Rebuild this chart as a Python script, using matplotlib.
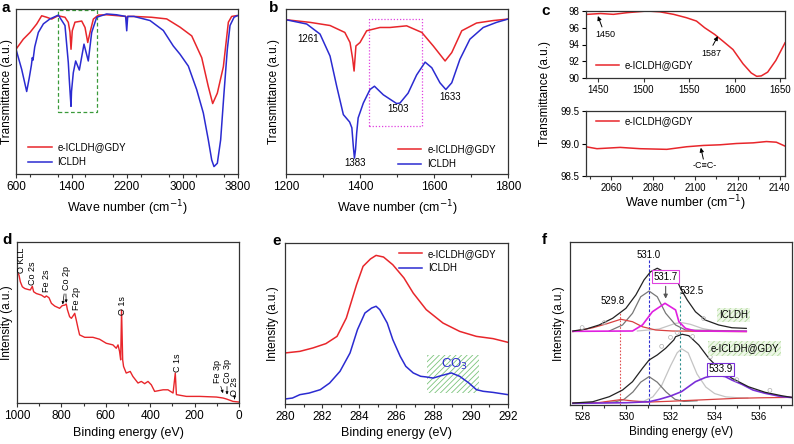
import matplotlib
matplotlib.use("Agg")
import matplotlib.pyplot as plt
from matplotlib.patches import Rectangle
from matplotlib.ticker import MultipleLocator, FormatStrFormatter

plt.rcParams['font.family'] = ['Liberation Sans', 'DejaVu Sans']
plt.rcParams['hatch.linewidth'] = 0.6

# ---- panel a: FTIR full range ----
a_ticks = [600, 1400, 2200, 3000, 3800]
a_red_x = [600, 705, 802, 898, 970, 1042, 1114, 1205, 1306, 1354, 1378, 1393, 1411, 1450, 1547, 1595,
           1634, 1667, 1715, 1787, 1907, 2050, 2180, 2196, 2210, 2300, 2400, 2550, 2772, 2964, 3133,
           3277, 3372, 3435, 3502, 3589, 3661, 3709, 3781, 3800]
a_red_y = [75.6, 81.7, 85.8, 90.9, 95.9, 95, 93.9, 95.9, 95, 91.9, 86, 75.6, 86.8, 92, 92.7, 88.8,
           79.7, 85.8, 93.9, 96.3, 96.5, 96, 95.5, 93.5, 95.5, 95.5, 95.3, 95, 94, 89, 83.7,
           70.5, 53, 42.7, 49, 65, 92, 95.5, 96, 96]
a_blue_x = [600, 682, 754, 790, 822, 835, 845, 870, 922, 995, 1090, 1210, 1306, 1354, 1368, 1385, 1393,
            1400, 1426, 1460, 1513, 1580, 1642, 1691, 1763, 1907, 2050, 2180, 2196, 2210, 2300, 2532,
            2723, 2867, 2964, 3084, 3204, 3300, 3372, 3421, 3454, 3502, 3550, 3598, 3646, 3685, 3743,
            3790, 3800]
a_blue_y = [75.6, 63.4, 50, 58, 66, 70.5, 69, 77, 85.8, 91, 94, 96.3, 90, 67.5, 57.3, 46, 41,
            50, 61.4, 68.5, 63, 78.7, 68.5, 85.8, 95, 97, 96.5, 95.5, 86.8, 95.5, 95.5, 93,
            87, 77.6, 72.6, 65.4, 51.2, 37, 20.7, 8.5, 4.5, 6.5, 20.7, 49, 75.6, 90, 95,
            96, 96]

# ---- panel b: FTIR zoom ----
b_red_x = [1200, 1265, 1319, 1359, 1373, 1380, 1384, 1389, 1400, 1418, 1454, 1481, 1526, 1567, 1598,
           1630, 1648, 1675, 1715, 1760, 1800]
b_red_y = [93.5, 91.9, 90, 85.8, 79.7, 70, 62.4, 77.6, 79.7, 86.8, 88.8, 88.8, 89.8, 85.8, 77.6,
           68.5, 73.6, 86.8, 91.5, 93, 93.9]
b_blue_x = [1200, 1256, 1292, 1319, 1337, 1355, 1372, 1378, 1382, 1385, 1388, 1391, 1395, 1409, 1427,
            1439, 1463, 1499, 1508, 1530, 1553, 1576, 1594, 1616, 1632, 1648, 1670, 1697, 1733,
            1769, 1800]
b_blue_y = [93.5, 90.9, 84.8, 71.5, 53.2, 36, 31.5, 28, 16.6, 9.6, 15, 24.8, 34, 43, 51.2,
            53.2, 48, 42.7, 43, 49, 60, 67.8, 64.4, 55.3, 51.2, 55.3, 69.5, 81.7, 88.8,
            91.9, 93.9]
b_peaks = [(1261, 82, "1261"), (1386, 6.5, "1383"), (1504, 39.4, "1503"), (1643, 46.8, "1633")]

# ---- panel c ----
c1_x = [1437, 1438.4, 1453, 1467, 1482, 1504, 1518, 1533, 1547, 1558, 1567, 1578, 1587, 1598, 1609,
        1618, 1624, 1629, 1636, 1645, 1655]
c1_y = [97.6, 97.6, 97.7, 97.6, 97.8, 98.0, 97.9, 97.6, 97.2, 96.8, 96.0, 95.2, 94.4, 93.4, 91.7,
        90.6, 90.2, 90.25, 90.7, 92.1, 94.2]
c2_x = [2048.2, 2053.4, 2064.4, 2073.9, 2086.5, 2095.9, 2103.8, 2111.7, 2119.5, 2127.4, 2133.7,
        2138.4, 2142.5]
c2_y = [98.95, 98.92, 98.94, 98.92, 98.91, 98.95, 98.97, 98.98, 99.0, 99.01, 99.03, 99.02, 98.96]

# ---- panel d: XPS survey ----
d_x = [995, 991, 985, 976, 965, 950, 940, 931, 925, 913, 890, 875, 868, 856, 845, 830, 808, 796, 785,
       778, 773, 763, 755, 745, 740, 733, 725, 718, 695, 658, 628, 598, 568, 553, 545, 538, 533,
       529, 524, 520, 508, 490, 478, 455, 440, 425, 410, 395, 380, 342, 320, 297, 287, 282, 237,
       177, 102, 72, 57, 27, 0]
d_y = [80.4, 79.4, 75.3, 72.2, 71.1, 70.5, 70.2, 72.5, 69.1, 68, 67, 65.6, 66.5, 65.4, 61.9, 60.2,
       58.8, 60.5, 60.8, 61.5, 58, 53.6, 52.6, 54.6, 55.7, 51.5, 46.4, 42.3, 40.8, 40.8, 39.6, 37.1,
       36.1, 34.0, 36.1, 32, 26.8, 57.7, 26.8, 22.7, 18.6, 19.6, 16.5, 12.4, 13.4, 12, 13.4, 11.3,
       7.2, 8.2, 8.2, 6.2, 18.6, 5.2, 4.1, 4.1, 3.7, 3.1, 2.5, 1.0, 0.6]
d_labels = [("O KLL", 980, 80.6), ("Co 2s", 928, 73.2), ("Fe 2s", 868, 68.9), ("Co 2p", 778, 70.1),
            ("Fe 2p", 730, 57.7), ("O 1s", 527, 54.6), ("C 1s", 275, 19.4), ("Fe 3p", 95, 12.6),
            ("Co 3p", 54, 12.6), ("O 2s", 20, 4.5)]

# ---- panel e: C 1s ----
e_red_x = [280, 280.8, 281.5, 282.2, 282.8, 283.3, 283.85, 284.2, 284.6, 284.9, 285.3, 285.8, 286.4,
           286.9, 287.6, 288.5, 289.4, 290.3, 291.2, 292]
e_red_y = [31.7, 32.7, 34.8, 37.5, 42, 53.4, 74.1, 85.5, 90.1, 92.3, 91.3, 86.5, 78.3, 68.9, 58.6,
           50.3, 45.1, 42, 40.6, 38.3]
e_blue_x = [280, 280.4, 280.8, 281.3, 281.9, 282.4, 282.96, 283.5, 283.9, 284.3, 284.66, 284.9, 285.1,
            285.5, 285.8, 286.2, 286.5, 286.9, 287.3, 287.6, 287.97, 288.4, 288.95, 289.4, 289.9,
            290.3, 290.66, 291.2, 292]
e_blue_y = [3.1, 3.7, 5.8, 6.8, 8.9, 13, 20.3, 31.7, 46.2, 56.5, 59.6, 60.7, 58.6, 50.3, 40, 29.6,
            23.4, 19.3, 17.2, 16.8, 16.1, 17.6, 19.3, 17.2, 13, 8.9, 7.9, 7.2, 5.8]

# ---- panel f: O 1s fits (top: ICLDH, bottom: e-ICLDH@GDY) ----
f_t_env_x = [527.58, 528.18, 528.77, 529.38, 529.98, 530.43, 530.8, 531.1, 531.4, 531.7, 532.23,
             532.45, 532.76, 533.13, 533.58, 534.18, 534.78, 535.43]
f_t_env_y = [45.4, 46.6, 49.1, 53.2, 59.3, 67.5, 76.7, 81.8, 83.9, 81.8, 78.7, 71.6, 64.4, 57.2,
             52.1, 49.1, 47.4, 47.0]
f_t_red_x = [527.58, 528.48, 529.08, 529.75, 530.28, 530.73, 531.33, 532.08, 533.5, 535.43]
f_t_red_y = [45.0, 47.4, 49.7, 52.6, 51.1, 48.0, 46.0, 45.4, 45.2, 45.0]
f_t_g1_x = [529.23, 529.83, 530.28, 530.65, 531.03, 531.4, 531.78, 532.23, 532.68, 535.43]
f_t_g1_y = [45.4, 49.1, 56.3, 66.4, 69.9, 66.4, 56.3, 49.1, 46.0, 45.4]
f_t_mag_x = [527.58, 530.28, 530.73, 531.18, 531.75, 532.23, 532.38, 532.68, 533.13, 535.43]
f_t_mag_y = [45.2, 45.4, 49.1, 57.2, 62.4, 58.3, 51.1, 47.0, 45.4, 45.2]
f_t_g2_x = [530.5, 531.48, 532.23, 532.53, 532.9, 533.43, 534.03, 535.43]
f_t_g2_y = [45.4, 46.6, 50.1, 50.5, 49.5, 47.0, 45.4, 45.2]

f_b_env_x = [527.58, 528.48, 529.23, 529.83, 530.28, 530.73, 531.03, 531.4, 531.78, 532.15, 532.23,
             532.53, 532.83, 533.28, 533.73, 534.18, 534.78, 535.53, 536.28, 537.03, 537.56]
f_b_env_y = [1.2, 2.0, 5.1, 9.2, 14.3, 22.5, 27.6, 30.7, 34.8, 39.9, 41.9, 43.4, 42.5, 36.8, 28.7,
             22.5, 16.4, 11.2, 7.8, 5.7, 4.5]
f_b_red_x = [527.58, 528.77, 529.3, 529.75, 530.3, 531.0, 532.0, 533.0, 534.0, 535.0, 536.0, 537.56]
f_b_red_y = [1.2, 1.5, 2.5, 3.3, 2.5, 1.8, 2.3, 2.9, 3.5, 4.1, 4.4, 4.7]
f_b_g1_x = [529.0, 529.5, 529.9, 530.3, 530.65, 531.03, 531.4, 531.8, 532.2, 532.6, 533.2]
f_b_g1_y = [1.6, 1.9, 3.5, 8.0, 14.0, 17.4, 14.0, 8.0, 3.5, 2.2, 2.6]
f_b_g2_x = [530.4, 530.8, 531.2, 531.6, 532.0, 532.3, 532.5, 532.8, 533.2, 533.6, 534.0, 534.5, 535.0,
            535.5]
f_b_g2_y = [1.8, 2.4, 5.0, 12.0, 24.0, 32.0, 34.5, 32.0, 19.0, 11.0, 7.0, 5.0, 4.5, 4.3]
f_b_pur_x = [527.58, 530.0, 531.03, 531.5, 532.0, 532.5, 533.13, 533.58, 534.03, 534.48, 534.78,
             535.23, 535.73, 536.28, 537.03, 537.56]
f_b_pur_y = [1.0, 1.4, 2.0, 3.5, 5.5, 8.2, 14.3, 16.9, 18.4, 17.4, 15.3, 12.7, 9.2, 7.2, 5.1, 4.5]
f_raw_x = [528.0, 529.0, 531.6, 532.0, 532.3, 533.0, 533.5, 533.8, 535.0, 536.5]
f_raw_y = [47.5, 50.5, 36.0, 41.5, 44.5, 42.0, 53.0, 29.5, 15.5, 9.0]

RED = '#e8262b'
BLUE = '#2b2bd1'
W, H = 794, 444
fig = plt.figure(figsize=(W / 100, H / 100), dpi=100)


def px_axes(l, t, r, b):
    return fig.add_axes([l / W, 1 - b / H, (r - l) / W, (b - t) / H])


def style(ax, tsize=8.5, yticks=False):
    ax.tick_params(axis='x', which='both', direction='out', top=False, labelsize=tsize,
                   width=0.8, color='#333333', pad=2)
    ax.tick_params(axis='x', which='major', length=3)
    ax.tick_params(axis='x', which='minor', length=2)
    if yticks:
        ax.tick_params(axis='y', which='both', direction='out', right=False, labelsize=tsize,
                       width=0.8, length=3, pad=2)
    else:
        ax.tick_params(axis='y', which='both', left=False, labelleft=False)
    for s in ax.spines.values():
        s.set_linewidth(0.9)
        s.set_color('#333333')


def xlab(ax, text, ypos, size=9):
    ax.set_xlabel(text, fontsize=size)
    ax.xaxis.set_label_coords(0.5, ypos)
    ax.xaxis.label.set_va('top')


arrow_c = dict(arrowstyle='-|>', color='k', lw=0.7, mutation_scale=6, shrinkA=0, shrinkB=0)

# a
ax = px_axes(16, 9, 238, 174)
ax.plot(a_red_x, a_red_y, color=RED, lw=1.1, label='e-ICLDH@GDY')
ax.plot(a_blue_x, a_blue_y, color=BLUE, lw=1.1, label='ICLDH')
ax.add_patch(Rectangle((1210, 37.6), 553, 61.8, fill=False, ec='#3a9a3a', ls=(0, (3, 2)), lw=0.9))
ax.set_xlim(600, 3800)
ax.set_ylim(0, 100)
ax.set_xticks(a_ticks)
ax.xaxis.set_minor_locator(MultipleLocator(400))
style(ax)
xlab(ax, 'Wave number (cm$^{-1}$)', -0.15)
ax.set_ylabel('Transmittance (a.u.)', fontsize=8.5)
ax.yaxis.set_label_coords(-0.015, 0.5)
ax.legend(loc='lower left', bbox_to_anchor=(0.055, 0.04), frameon=False, fontsize=7,
          handlelength=2.4, handletextpad=0.6, labelspacing=0.5, borderpad=0, borderaxespad=0)

# b
ax = px_axes(286, 9, 508, 174)
ax.plot(b_red_x, b_red_y, color=RED, lw=1.1, label='e-ICLDH@GDY')
ax.plot(b_blue_x, b_blue_y, color=BLUE, lw=1.1, label='ICLDH')
ax.add_patch(Rectangle((1425, 28.8), 142, 65.1, fill=False, ec='#e040e0', ls=(0, (1, 1.5)), lw=0.9))
for x, y, t in b_peaks:
    ax.text(x, y, t, fontsize=7, ha='center', va='center')
ax.set_xlim(1200, 1800)
ax.set_ylim(0, 100)
ax.xaxis.set_major_locator(MultipleLocator(200))
ax.xaxis.set_minor_locator(MultipleLocator(100))
style(ax)
xlab(ax, 'Wave number (cm$^{-1}$)', -0.15)
ax.set_ylabel('Transmittance (a.u.)', fontsize=8.5)
ax.yaxis.set_label_coords(-0.025, 0.5)
ax.legend(loc='lower left', bbox_to_anchor=(0.505, 0.03), frameon=False, fontsize=7,
          handlelength=2.4, handletextpad=0.6, labelspacing=0.5, borderpad=0, borderaxespad=0)

# c top
ax = px_axes(586, 11, 785, 78)
ax.plot(c1_x, c1_y, color=RED, lw=1.1, label='e-ICLDH@GDY')
ax.set_xlim(1437, 1655)
ax.set_ylim(90, 98)
ax.xaxis.set_major_locator(MultipleLocator(50))
ax.yaxis.set_major_locator(MultipleLocator(2))
style(ax, 7, yticks=True)
ax.annotate('', xy=(1450, 97.4), xytext=(1454.5, 96.1), arrowprops=arrow_c)
ax.text(1458.4, 95.2, '1450', fontsize=6.5, ha='center', va='center')
ax.annotate('', xy=(1581.5, 95.0), xytext=(1576, 93.9), arrowprops=arrow_c)
ax.text(1574.8, 92.9, '1587', fontsize=6.5, ha='center', va='center')
ax.legend(loc='lower left', bbox_to_anchor=(0.05, 0.12), frameon=False, fontsize=7,
          handlelength=2.4, handletextpad=0.6, borderpad=0, borderaxespad=0)

# c bottom
ax = px_axes(586, 111, 785, 176)
ax.plot(c2_x, c2_y, color=RED, lw=1.1, label='e-ICLDH@GDY')
ax.set_xlim(2048.2, 2142.5)
ax.set_ylim(98.5, 99.5)
ax.xaxis.set_major_locator(MultipleLocator(20))
ax.xaxis.set_minor_locator(MultipleLocator(10))
ax.yaxis.set_major_locator(MultipleLocator(0.5))
ax.yaxis.set_major_formatter(FormatStrFormatter('%.1f'))
style(ax, 7, yticks=True)
ax.annotate('', xy=(2102.6, 98.935), xytext=(2103.8, 98.76), arrowprops=arrow_c)
ax.text(2104.6, 98.66, '-C≡C-', fontsize=6.5, ha='center', va='center')
ax.legend(loc='upper left', bbox_to_anchor=(0.05, 0.92), frameon=False, fontsize=7,
          handlelength=2.4, handletextpad=0.6, borderpad=0, borderaxespad=0)
xlab(ax, 'Wave number (cm$^{-1}$)', -0.27)
fig.text(545 / W, 1 - 93 / H, 'Transmittance (a.u.)', rotation=90, fontsize=8.5,
         ha='center', va='center')

# d
ax = px_axes(17, 242, 239, 403)
ax.plot(d_x, d_y, color=RED, lw=1.0)
for t, x, y in d_labels:
    ax.text(x, y, t, rotation=90, fontsize=6.5, ha='center', va='bottom')
arrow = dict(arrowstyle='-|>', color='k', lw=0.5, mutation_scale=4)
ax.annotate('', xy=(796, 59.5), xytext=(786, 69.5), arrowprops=arrow)
ax.annotate('', xy=(778, 60.5), xytext=(780, 69.5), arrowprops=arrow)
ax.annotate('', xy=(68, 4.5), xytext=(86, 12), arrowprops=arrow)
ax.annotate('', xy=(54, 3.5), xytext=(54, 12), arrowprops=arrow)
ax.annotate('', xy=(20, 0.8), xytext=(20, 4.3), arrowprops=arrow)
ax.set_xlim(1000, 0)
ax.set_ylim(0, 100)
ax.xaxis.set_major_locator(MultipleLocator(200))
ax.xaxis.set_minor_locator(MultipleLocator(100))
style(ax)
xlab(ax, 'Binding energy (eV)', -0.15)
ax.set_ylabel('Intensity (a.u.)', fontsize=8.5)
ax.yaxis.set_label_coords(-0.02, 0.5)

# e
ax = px_axes(285, 243, 508, 404)
ax.add_patch(Rectangle((287.66, 6.8), 2.76, 23.8, fill=False, hatch='//////', ec='#7cc47c', lw=0))
ax.plot(e_red_x, e_red_y, color=RED, lw=1.1, label='e-ICLDH@GDY')
ax.plot(e_blue_x, e_blue_y, color=BLUE, lw=1.1, label='ICLDH')
ax.text(289.1, 24.4, 'CO$_3$', color=BLUE, fontsize=9.5, ha='center', va='center')
ax.set_xlim(280, 292)
ax.set_ylim(0, 100)
ax.xaxis.set_major_locator(MultipleLocator(2))
ax.xaxis.set_minor_locator(MultipleLocator(1))
style(ax)
xlab(ax, 'Binding energy (eV)', -0.14)
ax.set_ylabel('Intensity (a.u.)', fontsize=8.5)
ax.yaxis.set_label_coords(-0.025, 0.5)
ax.legend(loc='upper left', bbox_to_anchor=(0.51, 0.965), frameon=False, fontsize=7,
          handlelength=2.4, handletextpad=0.6, labelspacing=0.5, borderpad=0, borderaxespad=0)

# f
ax = px_axes(570, 242, 792, 405)
ax.plot([529.72, 529.72], [0, 56.3], color='#e05050', ls=(0, (1.5, 1.5)), lw=0.8)
ax.plot([531.03, 531.03], [0, 89], color='#3030d0', ls=(0, (2.5, 1.5)), lw=0.8)
ax.plot([532.45, 532.45], [0, 68.5], color='#2f8f8f', ls=(0, (2, 2)), lw=0.8)
ax.plot(f_t_g2_x, f_t_g2_y, color='#c4c4c4', lw=0.9)
ax.plot(f_t_g1_x, f_t_g1_y, color='#777777', lw=0.9)
ax.plot(f_t_red_x, f_t_red_y, color='#d94040', lw=0.9)
ax.plot(f_t_mag_x, f_t_mag_y, color='#e020e0', lw=1.2)
ax.plot(f_t_env_x, f_t_env_y, color='#222222', lw=0.9)
ax.plot(f_b_g2_x, f_b_g2_y, color='#c4c4c4', lw=0.9)
ax.plot(f_b_g1_x, f_b_g1_y, color='#777777', lw=0.9)
ax.plot(f_b_red_x, f_b_red_y, color='#d94040', lw=0.9)
ax.plot(f_b_pur_x, f_b_pur_y, color='#7a2fd8', lw=1.2)
ax.plot(f_b_env_x, f_b_env_y, color='#222222', lw=0.9)
ax.scatter(f_raw_x, f_raw_y, s=8, facecolors='none', edgecolors='#b0b0b0', lw=0.5, zorder=3)
ax.text(531.03, 92, '531.0', fontsize=7, ha='center', va='center')
ax.text(529.38, 64, '529.8', fontsize=7, ha='center', va='center')
ax.text(532.95, 70.1, '532.5', fontsize=7, ha='center', va='center')
ax.text(531.78, 78.7, '531.7', fontsize=7, ha='center', va='center',
        bbox=dict(boxstyle='square,pad=0.15', fc='white', ec='#e040e0', lw=0.8))
ax.text(534.25, 21.9, '533.9', fontsize=7, ha='center', va='center',
        bbox=dict(boxstyle='square,pad=0.15', fc='white', ec='#7a2fd8', lw=0.8))
ax.annotate('', xy=(531.78, 63.5), xytext=(531.78, 74.5),
            arrowprops=dict(arrowstyle='-|>', color='#555555', lw=0.8, mutation_scale=6))
ax.text(534.85, 55.2, 'ICLDH', fontsize=7, ha='center', va='center',
        bbox=dict(boxstyle='square,pad=0.25', fc='#eef7e8', ec='#b5dca0', hatch='//////', lw=0))
ax.text(535.35, 34.8, 'e-ICLDH@GDY', fontsize=7, ha='center', va='center',
        bbox=dict(boxstyle='square,pad=0.25', fc='#eef7e8', ec='#b5dca0', hatch='//////', lw=0))
ax.set_xlim(527.45, 537.5)
ax.set_ylim(0, 100)
ax.xaxis.set_major_locator(MultipleLocator(2))
ax.xaxis.set_minor_locator(MultipleLocator(1))
style(ax, 7)
xlab(ax, 'Binding energy (eV)', -0.13, 8.5)
ax.set_ylabel('Intensity (a.u.)', fontsize=8.5)
ax.yaxis.set_label_coords(-0.023, 0.5)

# panel letters
for t, x, y in [('a', 1, 12), ('b', 269, 12), ('c', 541, 15), ('d', 2, 244), ('e', 272, 245), ('f', 542, 244)]:
    fig.text(x / W, 1 - y / H, t, fontsize=11, fontweight='bold', ha='left', va='baseline')

fig.savefig('out.png', dpi=100)
